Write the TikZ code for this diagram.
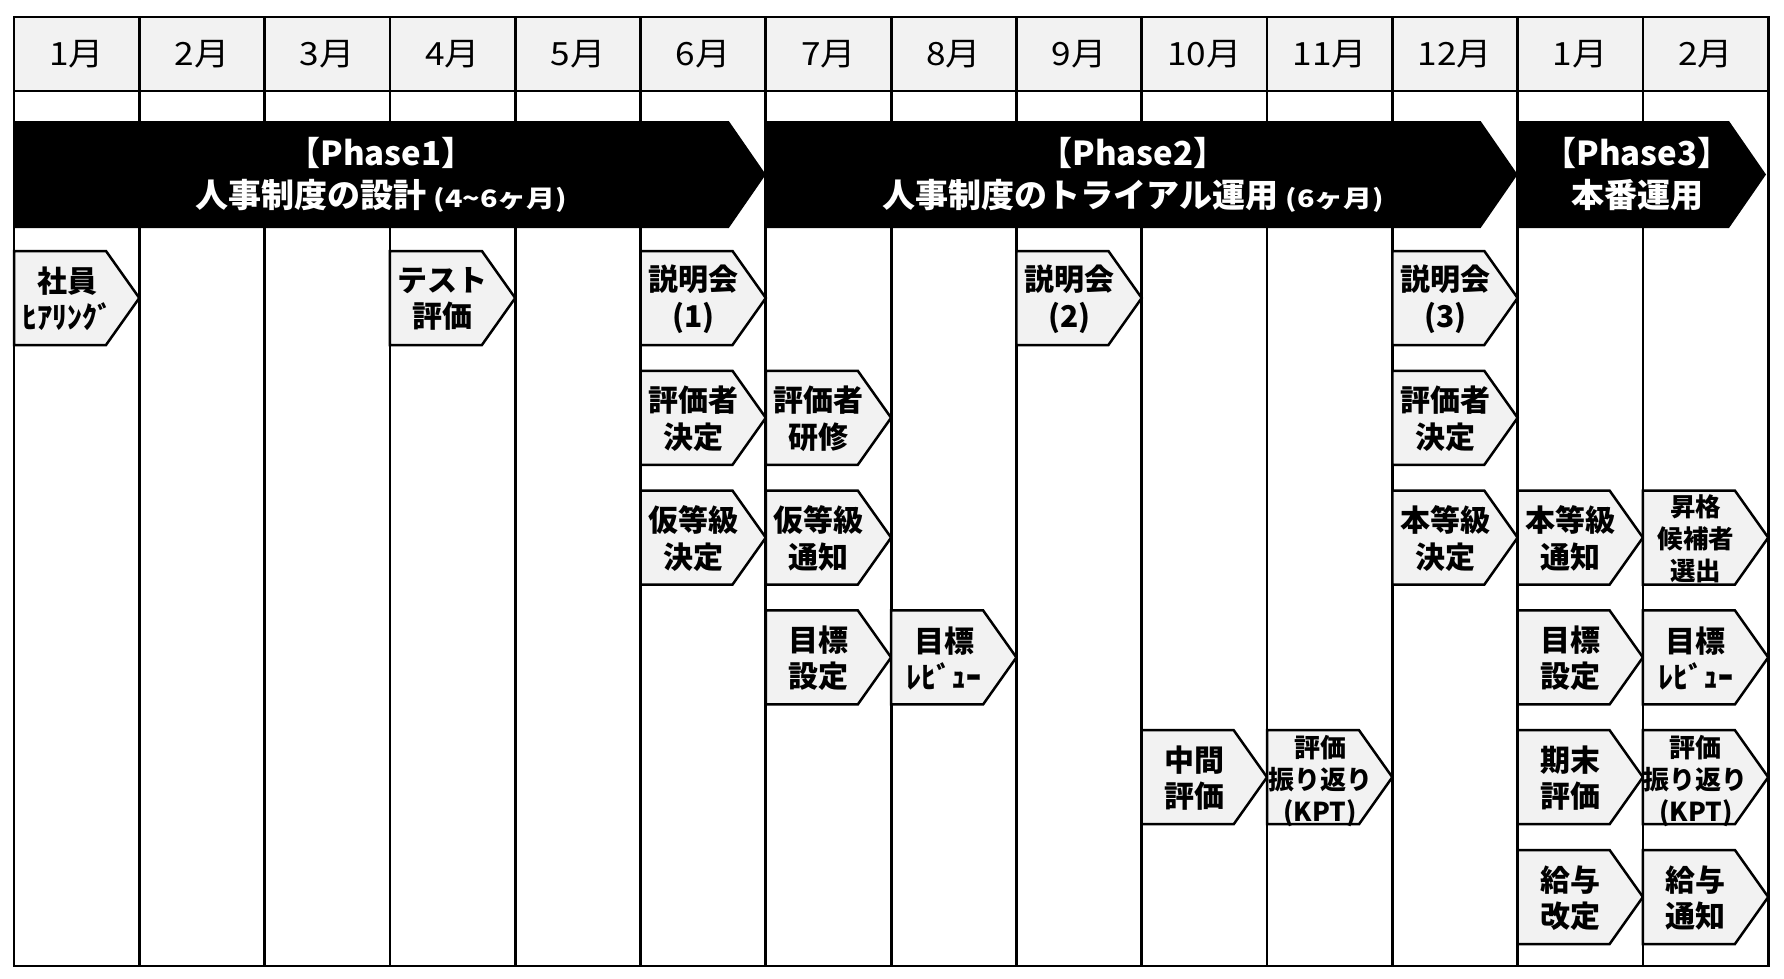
\documentclass[tikz,border=0pt]{standalone}
\usepackage{fontspec}
\setmainfont{Noto Sans CJK JP}
\newfontfamily\monthfont{Noto Sans CJK JP}[FakeStretch=1.1]
\newfontfamily\notefont{Noto Sans CJK JP}[FakeStretch=1.2]
\usetikzlibrary{calc}
\definecolor{cellgray}{HTML}{F2F2F2}
\tikzset{
  grid line/.style={line width=2.8pt},
  month label/.style={font=\monthfont\fontsize{32}{36}\selectfont},
  phase label/.style={text=white, align=center, inner sep=0pt, font=\bfseries\fontsize{33}{42}\selectfont},
  chev box/.style={fill=cellgray, draw=black, line width=2.5pt, line join=miter},
  chev label/.style={align=center, inner sep=0pt, font=\bfseries\fontsize{30}{36.5}\selectfont},
  small label/.style={font=\bfseries\fontsize{25.5}{32}\selectfont},
  kpt label/.style={font=\bfseries\fontsize{26}{32}\selectfont, yshift=-3pt},
}
\def\phasearrow(#1:#2){\fill[black] (#1,121) -- ({#2-37},121) -- (#2,174.5) -- ({#2-37},228) -- (#1,228) -- cycle;}
\def\chevron[#1](#2,#3)#4#5{%
  \draw[chev box] ({14+#2*125.3},{251+#3*119.8}) -- ++(92,0) -- ++(33.3,47) -- ++(-33.3,47) -- ++(-92,0) -- cycle;
  \node[chev label,#1] (#4) at ({67+#2*125.3},{299+#3*119.8}) {#5};}

\begin{document}
\begin{tikzpicture}[x=1pt, y=-1pt]
		%%%%% START %%%%%
		\useasboundingbox (0,0) rectangle (1784,978);
		\fill[cellgray] (14,17) rectangle (1768.2,91);
		\foreach \i in {1,...,13}
			\draw[grid line] ({14+\i*125.3},17) -- ({14+\i*125.3},966);
		\draw[grid line] (14,91) -- (1768.2,91);
		\draw[grid line] (14,17) rectangle (1768.2,966);
		
		\node[month label] (m1) at (76.7,54) {1月};
		\node[month label] (m2) at (202,54) {2月};
		\node[month label] (m3) at (327.3,54) {3月};
		\node[month label] (m4) at (452.6,54) {4月};
		\node[month label] (m5) at (577.9,54) {5月};
		\node[month label] (m6) at (703.2,54) {6月};
		\node[month label] (m7) at (828.5,54) {7月};
		\node[month label] (m8) at (953.8,54) {8月};
		\node[month label] (m9) at (1079.1,54) {9月};
		\node[month label] (m10) at (1204.4,54) {10月};
		\node[month label] (m11) at (1329.7,54) {11月};
		\node[month label] (m12) at (1455,54) {12月};
		\node[month label] (m13) at (1580.3,54) {1月};
		\node[month label] (m14) at (1705.6,54) {2月};
		
		\phasearrow(14:765.8)
		\phasearrow(765.8:1517.6)
		\phasearrow(1517.6:1766)
		\node[phase label] (phase1) at (381,174.5) {【Phase1】\\人事制度の設計 \notefont\fontsize{24}{24}\selectfont (4{\char"7E}6ヶ月)};
		\node[phase label] (phase2) at (1133,174.5) {【Phase2】\\人事制度のトライアル運用 \notefont\fontsize{24}{24}\selectfont (6ヶ月)};
		\node[phase label] (phase3) at (1637,174.5) {【Phase3】\\本番運用};
		
		\chevron[](0,0){hearing}{社員\\ﾋｱﾘﾝｸﾞ}
		\chevron[](3,0){testeval}{テスト\\評価}
		\chevron[](5,0){brief1}{説明会\\(1)}
		\chevron[](8,0){brief2}{説明会\\(2)}
		\chevron[](11,0){brief3}{説明会\\(3)}
		
		\chevron[](5,1){raterset}{評価者\\決定}
		\chevron[](6,1){ratertrain}{評価者\\研修}
		\chevron[](11,1){raterfix}{評価者\\決定}
		
		\chevron[](5,2){tempgrade}{仮等級\\決定}
		\chevron[](6,2){tempnotice}{仮等級\\通知}
		\chevron[](11,2){gradeset}{本等級\\決定}
		\chevron[](12,2){gradenotice}{本等級\\通知}
		\chevron[small label](13,2){promote}{昇格\\候補者\\選出}
		
		\chevron[](6,3){goalset}{目標\\設定}
		\chevron[](7,3){goalreview}{目標\\ﾚﾋﾞｭｰ}
		\chevron[](12,3){goalset2}{目標\\設定}
		\chevron[](13,3){goalreview2}{目標\\ﾚﾋﾞｭｰ}
		
		\chevron[](9,4){midterm}{中間\\評価}
		\chevron[kpt label](10,4){kpt1}{評価\\振り返り\\(KPT)}
		\chevron[](12,4){yearend}{期末\\評価}
		\chevron[kpt label](13,4){kpt2}{評価\\振り返り\\(KPT)}
		
		\chevron[](12,5){salaryset}{給与\\改定}
		\chevron[](13,5){salarynotice}{給与\\通知}
		%%%%% END %%%%%
\end{tikzpicture}
\end{document}
